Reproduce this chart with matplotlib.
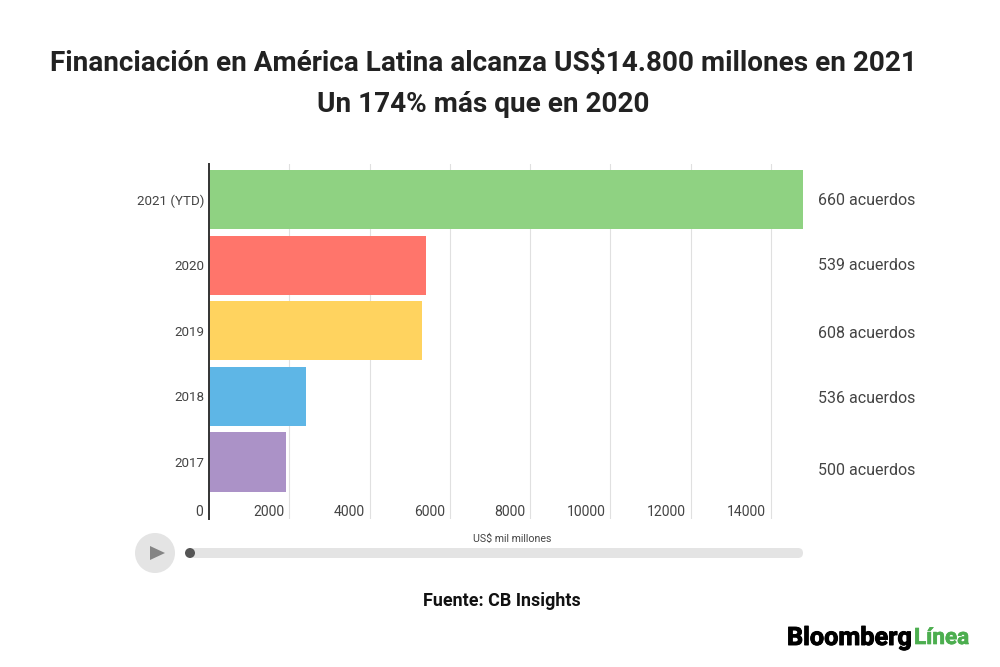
#!/usr/bin/env python3
# -*- coding: utf-8 -*-
import matplotlib
matplotlib.use('Agg')
import matplotlib.pyplot as plt
import matplotlib.patheffects as pe
from matplotlib.patches import Circle, FancyBboxPatch, Polygon

plt.rcParams['font.family'] = ['Roboto', 'DejaVu Sans']

## DATA
years = ['2017', '2018', '2019', '2020', '2021 (YTD)']
values = [1920, 2420, 5310, 5410, 14800]
deals = ['500 acuerdos', '536 acuerdos', '608 acuerdos', '539 acuerdos', '660 acuerdos']
colors = ['#ab92c7', '#5eb6e6', '#ffd35f', '#ff756b', '#8fd282']
xticks = [0, 2000, 4000, 6000, 8000, 10000, 12000, 14000]
deal_y = [470.5, 398.5, 333, 265, 200.5]

W, H = 1000, 667
fig = plt.figure(figsize=(W/100, H/100), dpi=100)

## CHART AXES
left, right, top, bottom = 209, 803, 164, 519
ax = fig.add_axes([left/W, 1-bottom/H, (right-left)/W, (bottom-top)/H])
ax.barh(range(5), values, height=0.9, color=colors, zorder=3)
ax.set_xlim(0, 14800)
ax.set_ylim(-0.868, 4.54)
ax.set_yticks(range(5))
ax.set_yticklabels(years, fontsize=9.6, color='#444444')
ax.tick_params(axis='y', length=0, pad=3.5)
ax.set_xticks(xticks[1:])
ax.tick_params(axis='x', length=0, labelbottom=False)
ax.grid(axis='x', color='#e0e0e0', lw=0.8, zorder=0)
for s in ['top', 'right', 'bottom']:
    ax.spines[s].set_visible(False)
ax.spines['left'].set_color('#333333')
ax.spines['left'].set_linewidth(1.4)
ax.spines['left'].set_zorder(5)

## OVERLAY IN PIXELS
ov = fig.add_axes([0, 0, 1, 1])
ov.set_xlim(0, W)
ov.set_ylim(H, 0)
ov.axis('off')
ov.patch.set_alpha(0)

ov.text(483, 63, 'Financiación en América Latina alcanza US$14.800 millones en 2021',
        ha='center', va='center', fontsize=20.1, fontweight='bold', color='#222222')
ov.text(483, 105, 'Un 174% más que en 2020',
        ha='center', va='center', fontsize=20.1, fontweight='bold', color='#222222')

# x tick labels sit left of their gridlines
for v in xticks:
    x = left + (right-left)*v/14800
    ov.text(x-5 if v else 203.5, 511.5, str(v), ha='right', va='center', fontsize=10.1, color='#444444')

for d, y in zip(deals, deal_y):
    ov.text(818, y, d, ha='left', va='center', fontsize=11.5, color='#444444')

ov.text(512.5, 538.5, 'US$ mil millones', ha='center', va='center', fontsize=7.7, color='#444444')

# play control
ov.add_patch(Circle((155, 553), 20, color='#e4e4e4', lw=0))
ov.add_patch(Polygon([(150, 546), (150, 560), (165, 553)], color='#858585', lw=0))
ov.add_patch(FancyBboxPatch((190, 548), 613, 10, boxstyle='round,pad=0,rounding_size=5',
                            color='#e4e4e4', lw=0))
ov.add_patch(Circle((190, 553), 5, color='#555555', lw=0))

ov.text(501.5, 601, 'Fuente: CB Insights', ha='center', va='center', fontsize=12.9, fontweight='bold', color='#111111')

# heavier logo lettering
heavy = [pe.withStroke(linewidth=0.7, foreground='#000000')]
ov.text(912, 638, 'Bloomberg', ha='right', va='center', fontsize=18.2, fontweight='bold',
        color='#000000', path_effects=heavy)
heavy = [pe.withStroke(linewidth=0.5, foreground='#4cae4f')]
ov.text(914, 638, 'Línea', ha='left', va='center', fontsize=16.2, fontweight='bold',
        color='#4cae4f', path_effects=heavy)

fig.savefig('out.png', dpi=100)
